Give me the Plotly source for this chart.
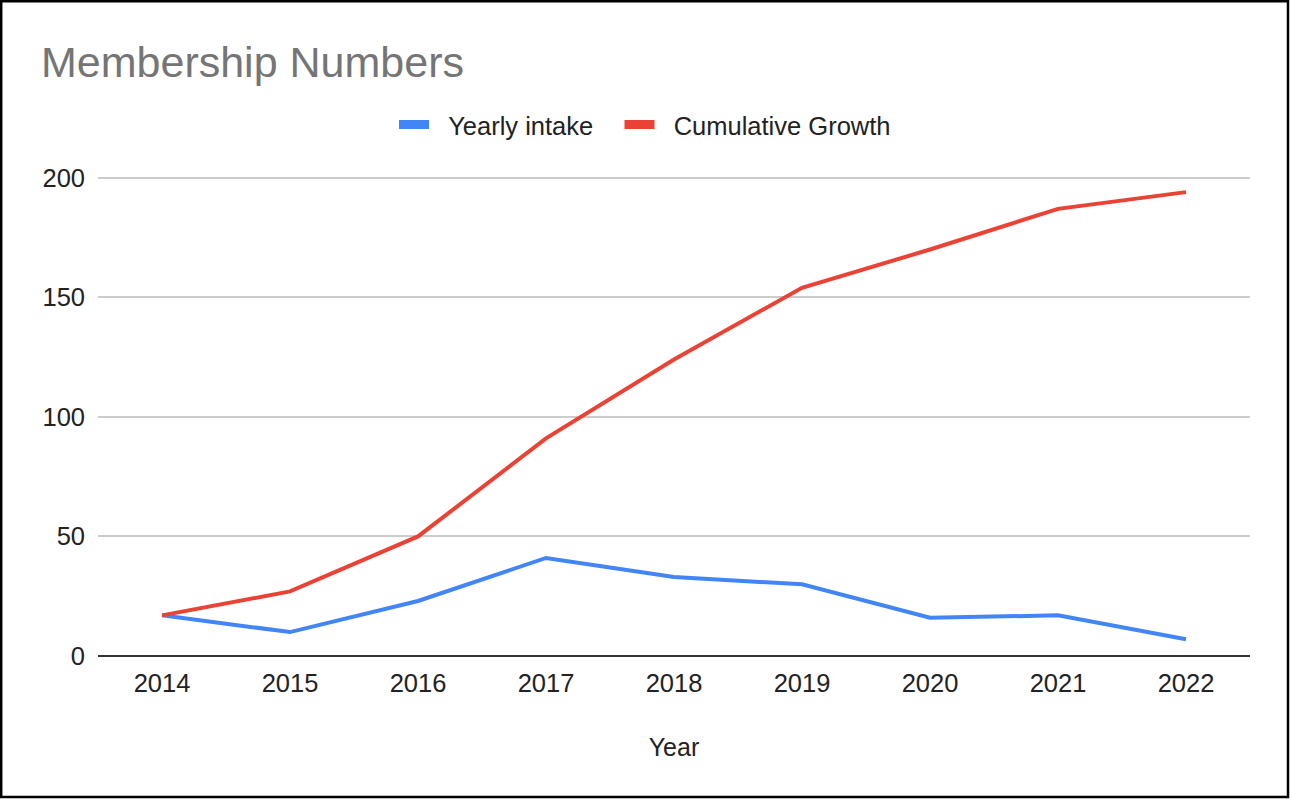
import plotly.graph_objects as go

years = ["2014", "2015", "2016", "2017", "2018", "2019", "2020", "2021", "2022"]
yearly_intake = [17, 10, 23, 41, 33, 30, 16, 17, 7]
cumulative_growth = [17, 27, 50, 91, 124, 154, 170, 187, 194]
y_ticks = [0, 50, 100, 150, 200]
series_names = ["Yearly intake", "Cumulative Growth"]
series_colors = ["#4285F4", "#EA4335"]

W, H = 1290, 800
PX_PER_UNIT = 478 / 200
Y_TOP = 202
L, R = 98, 40
B = H - 656
T = round(178 - (Y_TOP - 200) * PX_PER_UNIT)
PW, PH = W - L - R, H - T - B

FONT = "Liberation Sans, Arial, sans-serif"
NB = "\u00a0"
legend_labels = [NB * 2 + series_names[0] + NB * 3, NB * 2 + series_names[1]]

fig = go.Figure()
for name, vals, col in zip(series_names, [yearly_intake, cumulative_growth], series_colors):
    fig.add_trace(go.Scatter(x=years, y=vals, mode="lines", name=name, showlegend=False,
                             line=dict(color=col, width=4)))
for label, col in zip(legend_labels, series_colors):
    fig.add_trace(go.Scatter(x=[None], y=[None], mode="lines", name=label,
                             line=dict(color=col, width=9)))


def px_x(p):
    return (p - L) / PW


def px_y(p):
    return (H - B - p) / PH


fig.add_shape(type="rect", xref="paper", yref="paper",
              x0=px_x(1.2), x1=px_x(1288), y0=px_y(797), y1=px_y(1.2),
              line=dict(color="#000000", width=2.5), fillcolor="rgba(0,0,0,0)", layer="above")

fig.update_layout(
    width=W, height=H, autosize=False,
    margin=dict(l=L, r=R, t=T, b=B, pad=0, autoexpand=False),
    paper_bgcolor="white", plot_bgcolor="white",
    font=dict(family=FONT, size=25.5, color="#222222"),
    title=dict(text="Membership Numbers", x=41 / W, xref="container", xanchor="left",
               y=1 - 62 / H, yref="container", yanchor="middle",
               font=dict(family=FONT, size=43, color="#757575")),
    legend=dict(orientation="h", x=px_x(645), xanchor="center",
                y=px_y(125), yanchor="middle", itemwidth=30,
                font=dict(family=FONT, size=25.5, color="#222222")),
    xaxis=dict(type="category", range=[-0.5, 8.5], showgrid=False, showline=False,
               zeroline=False, ticks="", ticklabelstandoff=9, tickangle=0,
               tickfont=dict(family=FONT, size=25.5, color="#222222"),
               title=dict(text="Year", standoff=42, font=dict(family=FONT, size=25, color="#222222"))),
    yaxis=dict(range=[0, Y_TOP], tickvals=y_ticks, showgrid=True, gridcolor="#cccccc",
               gridwidth=2, zeroline=True, zerolinecolor="#333333", zerolinewidth=2,
               showline=False, ticks="", ticklabelstandoff=12,
               tickfont=dict(family=FONT, size=25.5, color="#222222")),
)

fig.write_html("out.html", config={"displayModeBar": False},
               post_script="document.body.style.margin='0px';")
